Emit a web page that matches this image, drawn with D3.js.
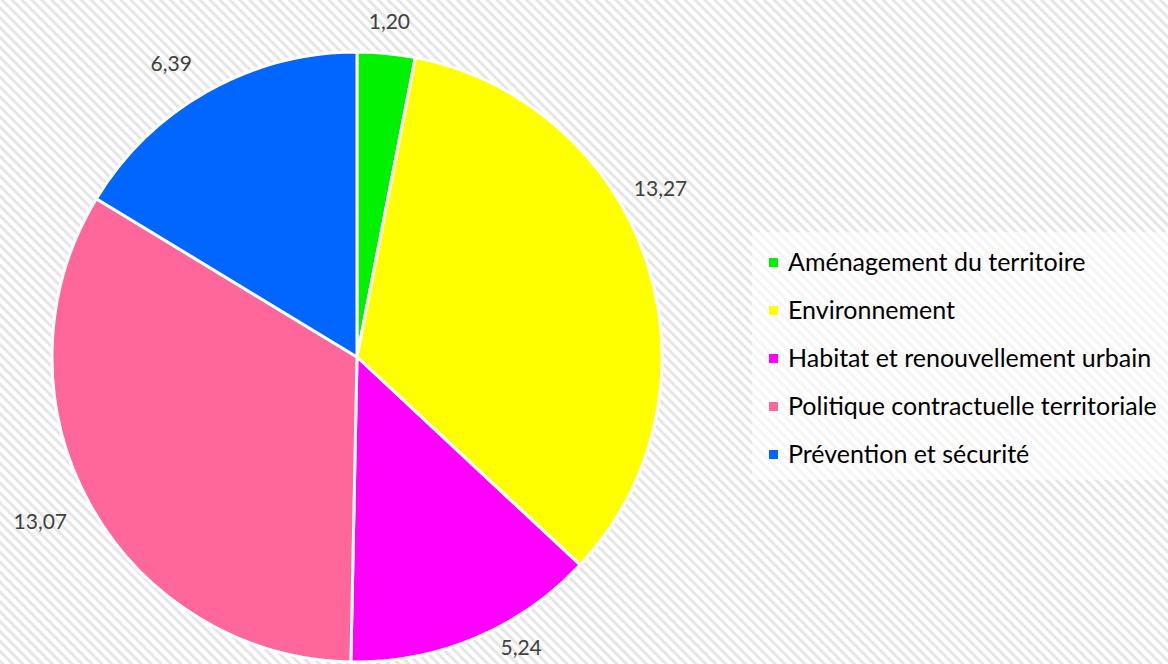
<!DOCTYPE html>
<html>
<head>
<meta charset="utf-8">
<script src="https://cdn.jsdelivr.net/npm/d3@7"></script>
<style>
  body { margin: 0; background: #fff; }
  svg { display: block; }
</style>
</head>
<body>
<div id="chart"></div>
<script>
var width = 1168,
    height = 664;

// data
var categories = ["Aménagement du territoire", "Environnement", "Habitat et renouvellement urbain",
                  "Politique contractuelle territoriale", "Prévention et sécurité"];
var values = [1.20, 13.27, 5.24, 13.07, 6.39];
var colors = ["#00f200", "#ffff00", "#ff00ff", "#ff6699", "#0066ff"];

// best-fit style label nudges (degrees, extra px), like excel does
var labelNudge = [[0, -1], [-11, 9], [-6.5, -4], [1.3, 19], [-3, 9]];

var fmt = function(v) { return d3.format(".2f")(v).replace(".", ","); };

var svg = d3.select("#chart").append("svg")
    .attr("width", width)
    .attr("height", height);

// striped background
var defs = svg.append("defs");
var pat = defs.append("pattern")
    .attr("id", "stripes")
    .attr("patternUnits", "userSpaceOnUse")
    .attr("width", 7)
    .attr("height", 7)
    .attr("patternTransform", "rotate(-45)");
pat.append("rect").attr("width", 7).attr("height", 7).attr("fill", "#ffffff");
pat.append("rect").attr("width", 3).attr("height", 7).attr("fill", "#e6e6e6");

svg.append("rect")
    .attr("width", width)
    .attr("height", height)
    .attr("fill", "url(#stripes)");

var cx = 357, cy = 357, r = 305, lr = 338;

var pie = d3.pie().sort(null).value(function(d) { return d; });
var arc = d3.arc().innerRadius(0).outerRadius(r);

var g = svg.append("g").attr("transform", "translate(" + cx + "," + cy + ")");

var arcs = pie(values);

g.selectAll("path.slice")
    .data(arcs)
    .enter()
    .append("path")
    .attr("class", "slice")
    .attr("d", arc)
    .attr("fill", function(d, i) { return colors[i]; })
    .attr("stroke", "#ffffff")
    .attr("stroke-width", 3)
    .attr("stroke-linejoin", "round");

g.selectAll("text.lbl")
    .data(arcs)
    .enter()
    .append("text")
    .attr("class", "lbl")
    .attr("transform", function(d, i) {
        var a = (d.startAngle + d.endAngle) / 2 + labelNudge[i][0] * Math.PI / 180,
            rr = lr + labelNudge[i][1];
        return "translate(" + (rr * Math.sin(a)) + "," + (-rr * Math.cos(a)) + ")";
    })
    .attr("text-anchor", "middle")
    .attr("dy", "0.35em")
    .style("font-family", "Lato, 'Open Sans', sans-serif")
    .style("font-size", "21px")
    .style("fill", "#404040")
    .text(function(d) { return fmt(d.data); });

// legend
var legend = svg.append("g").attr("transform", "translate(752,232)");
legend.append("rect")
    .attr("width", 416)
    .attr("height", 248)
    .attr("fill", "#ffffff")
    .attr("fill-opacity", 0.6);

var item = legend.selectAll("g.item")
    .data(categories)
    .enter()
    .append("g")
    .attr("class", "item")
    .attr("transform", function(d, i) { return "translate(17," + (30 + i * 48) + ")"; });

item.append("rect")
    .attr("x", 0)
    .attr("y", -4)
    .attr("width", 9)
    .attr("height", 9)
    .attr("fill", function(d, i) { return colors[i]; });

item.append("text")
    .attr("x", 19)
    .attr("dy", "0.35em")
    .style("font-family", "Lato, 'Open Sans', sans-serif")
    .style("font-size", "25px")
    .style("fill", "#000")
    .text(function(d) { return d; });
</script>
</body>
</html>
